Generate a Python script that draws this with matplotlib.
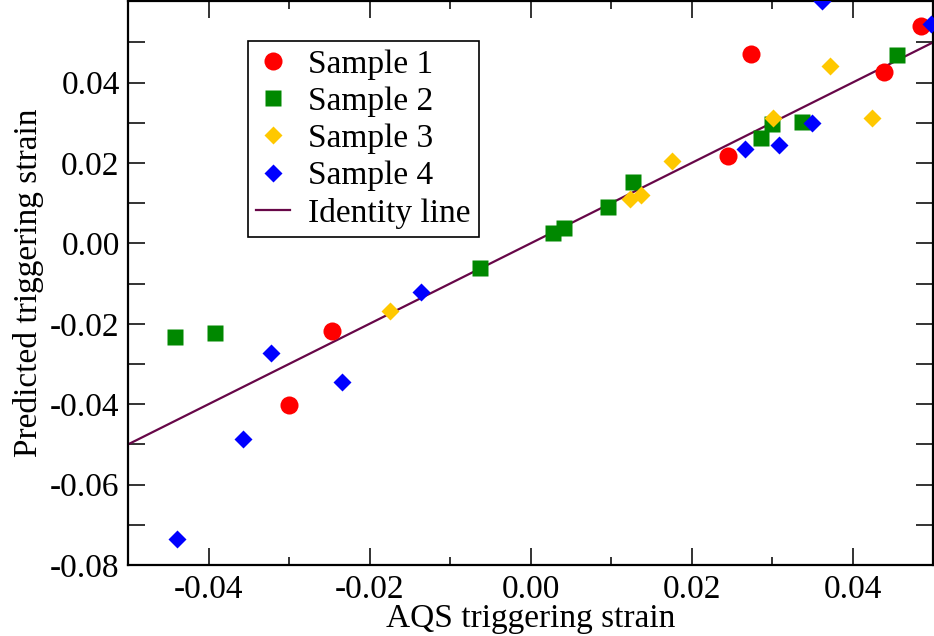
import matplotlib
matplotlib.use("Agg")
import matplotlib.pyplot as plt
from matplotlib.ticker import MultipleLocator, FixedLocator, FormatStrFormatter

plt.rcParams['font.family'] = ['Liberation Serif', 'DejaVu Serif']

# Sample data (AQS triggering strain, predicted triggering strain)
s1_x = [-0.0246, -0.0300, 0.0245, 0.0274, 0.0439, 0.0485]
s1_y = [-0.0219, -0.0401, 0.0218, 0.0471, 0.0426, 0.0540]

s2_x = [-0.0441, -0.0392, -0.0063, 0.0028, 0.0042, 0.0096, 0.0127, 0.0286, 0.0300, 0.0337, 0.0455]
s2_y = [-0.0234, -0.0223, -0.0060, 0.0025, 0.0038, 0.0090, 0.0153, 0.0262, 0.0297, 0.0301, 0.0468]

s3_x = [-0.0174, 0.0123, 0.0137, 0.0176, 0.0301, 0.0372, 0.0424]
s3_y = [-0.0167, 0.0110, 0.0121, 0.0205, 0.0311, 0.0442, 0.0311]

s4_x = [-0.0439, -0.0357, -0.0322, -0.0234, -0.0136, 0.0266, 0.0309, 0.0350, 0.0362, 0.0497]
s4_y = [-0.0735, -0.0487, -0.0272, -0.0346, -0.0120, 0.0234, 0.0246, 0.0300, 0.0602, 0.0545]

identity = [-0.05, 0.05]
y_major = [-0.08, -0.06, -0.04, -0.02, 0.0, 0.02, 0.04]

fig = plt.figure(figsize=(9.34, 6.36), dpi=100)
ax = fig.add_axes([128/934, 1-565/636, (933-128)/934, (565-1)/636])

ax.plot(identity, identity, color='#670748', lw=1.6, label='Identity line', zorder=2)
ax.plot(s1_x, s1_y, 'o', color='#ff0000', ms=13, mec='none', label='Sample 1', zorder=3)
ax.plot(s2_x, s2_y, 's', color='#008800', ms=11.5, mec='none', label='Sample 2', zorder=3)
ax.plot(s3_x, s3_y, 'D', color='#ffc800', ms=9.2, mec='none', label='Sample 3', zorder=3)
ax.plot(s4_x, s4_y, 'D', color='#0000ff', ms=9.2, mec='none', label='Sample 4', zorder=3)

ax.set_xlim(-0.05, 0.05)
ax.set_ylim(-0.08, 0.0603)

ax.xaxis.set_major_locator(MultipleLocator(0.02))
ax.xaxis.set_minor_locator(MultipleLocator(0.01))
ax.yaxis.set_major_locator(FixedLocator(y_major))
ax.yaxis.set_minor_locator(FixedLocator([-0.07, -0.05, -0.03, -0.01, 0.01, 0.03, 0.05]))
ax.xaxis.set_major_formatter(FormatStrFormatter('%.2f'))
ax.yaxis.set_major_formatter(FormatStrFormatter('%.2f'))

ax.tick_params(which='both', direction='in', top=True, right=True, width=1.4, colors='#333333', labelcolor='black', labelsize=24)
ax.tick_params(axis='x', which='major', length=12, pad=7)
ax.tick_params(axis='x', which='minor', length=6)
ax.tick_params(axis='y', which='major', length=12, pad=6)
ax.tick_params(axis='y', which='minor', length=12)
for sp in ax.spines.values():
    sp.set_linewidth(1.6)

ax.set_xlabel('AQS triggering strain', fontsize=24, va='center')
ax.xaxis.set_label_coords(0.5, (565 - 619) / 564)
ax.set_ylabel('Predicted triggering strain', fontsize=24, labelpad=4)

handles, labels = ax.get_legend_handles_labels()
order = [1, 2, 3, 4, 0]
leg = ax.legend([handles[i] for i in order], [labels[i] for i in order],
                loc='upper left', bbox_to_anchor=(248/934, 1-41/636),
                bbox_transform=fig.transFigure, borderaxespad=0,
                fontsize=24, frameon=True, fancybox=False, framealpha=1,
                edgecolor='black', handlelength=1.0, handletextpad=0.55,
                labelspacing=0.2, borderpad=0.25, numpoints=1)
leg.get_frame().set_linewidth(1.2)

fig.savefig('out.png', dpi=100)
